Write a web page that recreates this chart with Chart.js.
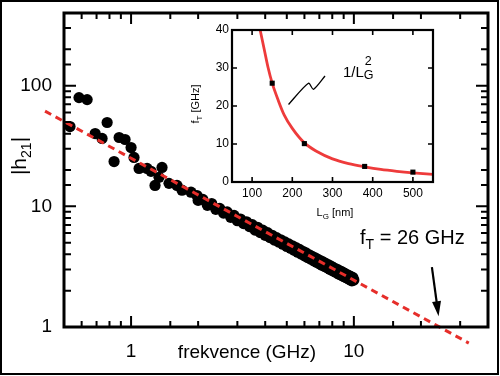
<!DOCTYPE html>
<html><head><meta charset="utf-8">
<script src="https://cdn.jsdelivr.net/npm/chart.js@4.4.0/dist/chart.umd.min.js"></script>
<style>
html,body{margin:0;padding:0;background:#fff;}
#wrap{position:relative;width:500px;height:376px;overflow:hidden;}
#main{position:absolute;left:0;top:0;}
#inset{position:absolute;left:180px;top:20px;}
</style></head><body>
<div id="wrap"><canvas id="main" width="500" height="376"></canvas><canvas id="inset" width="270" height="205"></canvas></div>
<script>
// ---- main chart data ----
const freqSparse = [0.532, 0.584, 0.635, 0.690, 0.741, 0.781, 0.839, 0.884, 0.940, 1.0, 1.031, 1.086, 1.18, 1.229, 1.281, 1.335, 1.377, 1.48, 1.608, 1.693, 1.858, 1.977];
const h21Sparse  = [45.8, 79.6, 76.6, 40.1, 36.5, 49.5, 23.5, 37.2, 35.8, 30.7, 25.4, 20.6, 20.6, 19.5, 14.9, 17.4, 21.0, 15.5, 14.9, 13.6, 13.1, 12.3];
const freqBand = [2.0,2.1,2.2,2.3,2.4,2.5,2.6,2.7,2.8,2.9,3.0,3.1,3.2,3.3,3.4,3.5,3.6,3.7,3.8,3.9,4.0,4.1,4.2,4.3,4.4,4.5,4.6,4.7,4.8,4.9,5.0,5.1,5.2,5.3,5.4,5.5,5.6,5.7,5.8,5.9,6.0,6.1,6.2,6.3,6.4,6.5,6.6,6.7,6.8,6.9,7.0,7.1,7.2,7.3,7.4,7.5,7.6,7.7,7.8,7.9,8.0,8.1,8.2,8.3,8.4,8.5,8.6,8.7,8.8,8.9,9.0,9.1,9.2,9.3,9.4,9.5,9.6,9.7,9.8,9.9,10.0];
const h21Band  = [11.2,11.4,10.2,10.55,9.45,9.6,8.8,9.0,8.1,8.4,7.6,7.85,7.2,7.45,6.8,7.05,6.35,6.7,6.05,6.35,5.75,6.05,5.5,5.75,5.25,5.5,5.05,5.28,4.85,5.07,4.65,4.88,4.49,4.71,4.32,4.55,4.17,4.39,4.03,4.24,3.89,4.11,3.76,3.97,3.66,3.85,3.54,3.75,3.44,3.63,3.34,3.54,3.25,3.45,3.17,3.35,3.09,3.27,3.01,3.19,2.93,3.1,2.87,3.04,2.8,2.97,2.74,2.91,2.68,2.85,2.62,2.78,2.57,2.72,2.52,2.67,2.46,2.62,2.41,2.57,2.45];
const fitFreq = [0.411, 32.8];
const fitH21  = [61.5, 0.736];
const arrowFreq = [22.4, 24.0];
const arrowH21  = [3.13, 1.23];
const xTickLabels = [1, 10];
const yTickLabels = [1, 10, 100];

// ---- inset data ----
const gateLength = [150, 230, 380, 500];
const fT = [26, 10.1, 4.1, 2.6];
const curveL  = [120, 130, 140, 150, 165, 180, 200, 230, 260, 300, 340, 380, 420, 460, 500, 550];
const curveFT = [40, 35, 30, 26, 21.5, 17.6, 14.1, 10.3, 8.1, 6.1, 4.85, 4.0, 3.3, 2.8, 2.4, 2.0];
const squiggleL  = [190.6, 240.1, 252.5, 281.4];
const squiggleFT = [20.4, 26.0, 24.4, 27.9];
const insetXTicks = [100, 200, 300, 400, 500];
const insetYTicks = [0, 10, 20, 30, 40];

const FONT = '"Liberation Sans", Arial, Helvetica, sans-serif';
function richText(ctx, parts, x, y, align) {
  let w = 0;
  parts.forEach(p => { ctx.font = p.size + 'px ' + FONT; w += ctx.measureText(p.t).width; });
  let cx = align === 'center' ? x - w / 2 : x;
  ctx.textAlign = 'left'; ctx.textBaseline = 'alphabetic';
  parts.forEach(p => {
    ctx.font = p.size + 'px ' + FONT;
    ctx.fillText(p.t, cx, y + (p.dy || 0));
    cx += ctx.measureText(p.t).width;
  });
}
const zip = (a, b) => a.map((v, i) => ({x: v, y: b[i]}));
const isDecade = v => Math.abs(Math.log10(v) - Math.round(Math.log10(v))) < 1e-6;
const noPad = s => { s.paddingTop = 0; s.paddingBottom = 0; s.paddingLeft = 0; s.paddingRight = 0; };

const mainDeco = {
  id: 'mainDeco',
  afterDraw(chart) {
    const ctx = chart.ctx, a = chart.chartArea, xs = chart.scales.x, ys = chart.scales.y;
    ctx.save();
    ctx.strokeStyle = '#000'; ctx.fillStyle = '#000'; ctx.lineWidth = 2;
    ctx.beginPath();
    xs.ticks.forEach(t => {
      const px = xs.getPixelForValue(t.value);
      if (px < a.left + 2 || px > a.right - 2) return;
      const L = isDecade(t.value) ? 11 : 6;
      ctx.moveTo(px, a.bottom); ctx.lineTo(px, a.bottom - L);
      ctx.moveTo(px, a.top); ctx.lineTo(px, a.top + L);
    });
    ys.ticks.forEach(t => {
      const py = ys.getPixelForValue(t.value);
      if (py < a.top + 2 || py > a.bottom - 2) return;
      const L = isDecade(t.value) ? 12 : 7;
      ctx.moveTo(a.left, py); ctx.lineTo(a.left + L, py);
      ctx.moveTo(a.right, py); ctx.lineTo(a.right - L, py);
    });
    ctx.stroke();
    ctx.lineWidth = 3;
    ctx.strokeRect(a.left, a.top, a.right - a.left, a.bottom - a.top);
    // arrow
    const x0 = xs.getPixelForValue(arrowFreq[0]), y0 = ys.getPixelForValue(arrowH21[0]);
    const x1 = xs.getPixelForValue(arrowFreq[1]), y1 = ys.getPixelForValue(arrowH21[1]);
    const ang = Math.atan2(y1 - y0, x1 - x0), hl = 15, hw = 4.5;
    ctx.lineWidth = 2.2;
    ctx.beginPath(); ctx.moveTo(x0, y0);
    ctx.lineTo(x1 - Math.cos(ang) * hl * 0.8, y1 - Math.sin(ang) * hl * 0.8); ctx.stroke();
    ctx.beginPath();
    ctx.moveTo(x1, y1);
    ctx.lineTo(x1 - Math.cos(ang) * hl + Math.sin(ang) * hw, y1 - Math.sin(ang) * hl - Math.cos(ang) * hw);
    ctx.lineTo(x1 - Math.cos(ang) * hl - Math.sin(ang) * hw, y1 - Math.sin(ang) * hl + Math.cos(ang) * hw);
    ctx.closePath(); ctx.fill();
    // texts
    richText(ctx, [{t: 'f', size: 20}, {t: 'T', size: 14, dy: 5}, {t: ' = 26 GHz', size: 20}], 360, 244, 'left');
    richText(ctx, [{t: 'frekvence (GHz)', size: 19}], 247, 358, 'center');
    ctx.save();
    ctx.translate(26, 156); ctx.rotate(-Math.PI / 2);
    richText(ctx, [{t: '|h', size: 21}, {t: '21', size: 14, dy: 5}, {t: '|', size: 21}], 0, 0, 'center');
    ctx.restore();
    // page frame
    ctx.lineWidth = 2;
    ctx.strokeRect(1, 1, 497, 373);
    ctx.restore();
  }
};

new Chart(document.getElementById('main'), {
  type: 'scatter',
  data: {
    datasets: [
      {type: 'line', data: zip(fitFreq, fitH21), borderColor: '#e62e2a', borderWidth: 3, borderDash: [7, 5], pointRadius: 0, clip: false, fill: false},
      {data: zip(freqSparse, h21Sparse).concat(zip(freqBand, h21Band)), backgroundColor: '#000', borderColor: '#000', borderWidth: 0, pointRadius: 5.6, pointHoverRadius: 5.6}
    ]
  },
  options: {
    responsive: false, animation: false, devicePixelRatio: 1,
    layout: {padding: {top: 13, right: 12, left: 0, bottom: 0}},
    plugins: {legend: {display: false}, tooltip: {enabled: false}},
    scales: {
      x: {type: 'logarithmic', min: 0.5, max: 40,
          grid: {display: false, drawTicks: false}, border: {display: false},
          ticks: {autoSkip: false, maxRotation: 0, padding: 13, color: '#000', font: {family: FONT, size: 19},
                  callback: v => xTickLabels.some(l => Math.abs(l - v) < 1e-9) ? String(v) : ''},
          afterFit: s => { s.height = 49; noPad(s); }},
      y: {type: 'logarithmic', min: 1, max: 400,
          grid: {display: false, drawTicks: false}, border: {display: false},
          ticks: {autoSkip: false, padding: 12, color: '#000', font: {family: FONT, size: 19},
                  callback: v => yTickLabels.some(l => Math.abs(l - v) < 1e-9) ? String(v) : ''},
          afterFit: s => { s.width = 64; noPad(s); }}
    }
  },
  plugins: [mainDeco]
});

const insetDeco = {
  id: 'insetDeco',
  beforeDatasetsDraw(chart) {
    const ctx = chart.ctx, a = chart.chartArea;
    ctx.save(); ctx.fillStyle = '#fff';
    ctx.fillRect(a.left, a.top, a.right - a.left, a.bottom - a.top); ctx.restore();
  },
  afterDraw(chart) {
    const ctx = chart.ctx, a = chart.chartArea, xs = chart.scales.x, ys = chart.scales.y;
    ctx.save();
    ctx.strokeStyle = '#000'; ctx.fillStyle = '#000'; ctx.lineWidth = 1.6;
    ctx.beginPath();
    insetXTicks.forEach(v => {
      const px = xs.getPixelForValue(v);
      ctx.moveTo(px, a.bottom); ctx.lineTo(px, a.bottom - 5);
      ctx.moveTo(px, a.top); ctx.lineTo(px, a.top + 5);
    });
    insetYTicks.forEach(v => {
      const py = ys.getPixelForValue(v);
      if (py < a.top + 2 || py > a.bottom - 2) return;
      ctx.moveTo(a.left, py); ctx.lineTo(a.left + 5, py);
      ctx.moveTo(a.right, py); ctx.lineTo(a.right - 5, py);
    });
    ctx.stroke();
    ctx.lineWidth = 2.2;
    ctx.strokeRect(a.left, a.top, a.right - a.left, a.bottom - a.top);
    richText(ctx, [{t: 'L', size: 11}, {t: 'G', size: 8, dy: 3}, {t: ' [nm]', size: 11}], 155, 196, 'center');
    ctx.save();
    ctx.translate(19, 84); ctx.rotate(-Math.PI / 2);
    richText(ctx, [{t: 'f', size: 11}, {t: 'T', size: 8, dy: 3}, {t: ' [GHz]', size: 11}], 0, 0, 'center');
    ctx.restore();
    ctx.font = '15px ' + FONT; ctx.textAlign = 'left'; ctx.textBaseline = 'alphabetic';
    ctx.fillText('1/L', 163, 57);
    const w = ctx.measureText('1/L').width;
    ctx.font = '12.5px ' + FONT;
    ctx.fillText('2', 163 + w + 1, 45);
    ctx.fillText('G', 163 + w, 59);
    ctx.restore();
  }
};

new Chart(document.getElementById('inset'), {
  type: 'scatter',
  data: {
    datasets: [
      {data: zip(gateLength, fT), pointStyle: 'rect', pointRadius: 3.6, backgroundColor: '#000', borderColor: '#000', borderWidth: 0},
      {type: 'line', data: zip(curveL, curveFT), borderColor: '#ee3b3b', borderWidth: 2.8, pointRadius: 0, cubicInterpolationMode: 'monotone', fill: false},
      {type: 'line', data: zip(squiggleL, squiggleFT), borderColor: '#000', borderWidth: 1.3, pointRadius: 0, tension: 0.25, fill: false}
    ]
  },
  options: {
    responsive: false, animation: false, devicePixelRatio: 1,
    layout: {padding: {top: 10, right: 17, left: 0, bottom: 0}},
    plugins: {legend: {display: false}, tooltip: {enabled: false}},
    scales: {
      x: {type: 'linear', min: 50, max: 550,
          afterBuildTicks: s => { s.ticks = insetXTicks.map(v => ({value: v})); },
          grid: {display: false, drawTicks: false}, border: {display: false},
          ticks: {autoSkip: false, maxRotation: 0, padding: 4, color: '#000', font: {family: FONT, size: 12}},
          afterFit: s => { s.height = 43; noPad(s); }},
      y: {type: 'linear', min: 0, max: 40,
          afterBuildTicks: s => { s.ticks = insetYTicks.map(v => ({value: v})); },
          grid: {display: false, drawTicks: false}, border: {display: false},
          ticks: {autoSkip: false, padding: 3, color: '#000', font: {family: FONT, size: 12}},
          afterFit: s => { s.width = 52; noPad(s); }}
    }
  },
  plugins: [insetDeco]
});
</script>
</body></html>
